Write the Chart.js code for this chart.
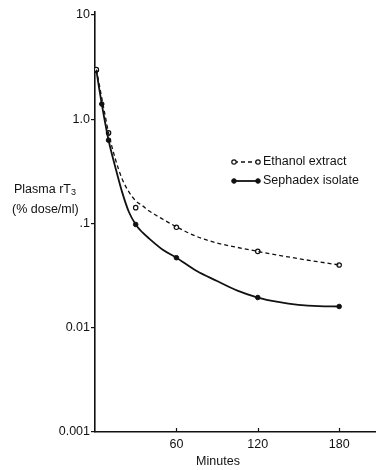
<!DOCTYPE html>
<html><head><meta charset="utf-8">
<script src="https://cdn.jsdelivr.net/npm/chart.js@4/dist/chart.umd.min.js"></script>
<style>html,body{margin:0;padding:0;background:#fff;} #wrap{width:381px;height:470px;position:relative}</style>
</head><body><div id="wrap"><canvas id="c" width="381" height="470"></canvas></div>
<script>
const seriesNames = ['Ethanol extract', 'Sephadex isolate'];
// measured points (markers)
const ethanolMinutes = [1, 10, 30, 60, 120, 180];
const ethanolValues = [3.0, 0.74, 0.142, 0.092, 0.054, 0.040];
const sephadexMinutes = [1, 5, 10, 30, 60, 120, 180];
const sephadexValues = [2.95, 1.4, 0.63, 0.098, 0.047, 0.0195, 0.016];
// hand-drawn curves
const ethanolCurveMinutes = [1, 3, 5, 7, 10, 15, 20, 25, 30, 35, 40, 45, 50, 60, 75, 90, 105, 120, 150, 180];
const ethanolCurveValues = [3.0, 2.2, 1.6, 1.17, 0.74, 0.416, 0.268, 0.201, 0.165, 0.148, 0.132, 0.12, 0.11, 0.093, 0.075, 0.065, 0.059, 0.054, 0.046, 0.040];
const sephadexCurveMinutes = [1, 3, 5, 7, 10, 15, 20, 25, 30, 35, 40, 50, 60, 75, 90, 105, 120, 135, 150, 165, 180];
const sephadexCurveValues = [2.95, 2.0, 1.4, 1.0, 0.63, 0.347, 0.2, 0.129, 0.098, 0.082, 0.0716, 0.056, 0.047, 0.035, 0.0281, 0.0227, 0.0195, 0.0177, 0.0166, 0.0161, 0.016];
const xTickValues = [60, 120, 180];
const yTickValues = [0.001, 0.01, 0.1, 1, 10];
const yTickLabels = ['0.001', '0.01', '.1', '1.0', '10'];
const xTitle = 'Minutes';
const yTitleMain = 'Plasma rT';
const yTitleSub = '3';
const yTitleUnit = '(% dose/ml)';

const INK = '#111';
const FONT = '"Liberation Sans", Arial, sans-serif';

const pts = (xs, ys) => xs.map((x, i) => ({x: x, y: ys[i]}));

const styles = [
  {lineWidth: 1.3, dash: [4, 3], radius: 2.2, fill: '#fff', border: 1.2},
  {lineWidth: 1.8, dash: [], radius: 2.3, fill: INK, border: 1}
];

const extras = {
  id: 'extras',
  afterDraw(chart) {
    const ctx = chart.ctx;
    const xs = chart.scales.x, ys = chart.scales.y;
    ctx.save();
    ctx.strokeStyle = INK; ctx.lineWidth = 1.2;
    xTickValues.forEach(v => {
      const px = Math.round(xs.getPixelForValue(v)) + 0.5;
      ctx.beginPath(); ctx.moveTo(px, ys.bottom); ctx.lineTo(px, ys.bottom - 4); ctx.stroke();
    });
    ctx.fillStyle = INK;
    ctx.font = '12.5px ' + FONT;
    ctx.textBaseline = 'middle';
    ctx.textAlign = 'center';
    ctx.fillText(xTitle, 218, 462);
    ctx.textAlign = 'left';
    ctx.fillText(yTitleMain, 14, 190);
    const w = ctx.measureText(yTitleMain).width;
    ctx.font = '9px ' + FONT;
    ctx.fillText(yTitleSub, 14 + w, 193);
    ctx.font = '12.5px ' + FONT;
    ctx.fillText(yTitleUnit, 12, 210);
    const rows = [162, 181];
    seriesNames.forEach((name, i) => {
      const st = styles[i];
      const y = rows[i];
      ctx.strokeStyle = INK;
      ctx.lineWidth = st.lineWidth;
      ctx.setLineDash(st.dash);
      ctx.beginPath(); ctx.moveTo(234, y); ctx.lineTo(258, y); ctx.stroke();
      ctx.setLineDash([]);
      [234, 258].forEach(cx => {
        ctx.beginPath(); ctx.arc(cx, y, st.radius, 0, Math.PI * 2);
        ctx.fillStyle = st.fill; ctx.fill();
        ctx.lineWidth = st.border; ctx.strokeStyle = INK; ctx.stroke();
      });
      ctx.fillStyle = INK;
      ctx.font = '12.5px ' + FONT;
      ctx.textAlign = 'left';
      ctx.fillText(name, 263, y);
    });
    ctx.restore();
  }
};

new Chart(document.getElementById('c'), {
  type: 'line',
  data: {
    datasets: [
      {
        label: seriesNames[0] + ' curve',
        data: pts(ethanolCurveMinutes, ethanolCurveValues),
        borderColor: INK, borderWidth: styles[0].lineWidth, borderDash: styles[0].dash,
        pointRadius: 0, cubicInterpolationMode: 'monotone', fill: false
      },
      {
        label: seriesNames[1] + ' curve',
        data: pts(sephadexCurveMinutes, sephadexCurveValues),
        borderColor: INK, borderWidth: styles[1].lineWidth,
        pointRadius: 0, cubicInterpolationMode: 'monotone', fill: false
      },
      {
        label: seriesNames[0],
        data: pts(ethanolMinutes, ethanolValues),
        showLine: false,
        pointRadius: styles[0].radius, pointBackgroundColor: styles[0].fill, pointBorderColor: INK, pointBorderWidth: styles[0].border
      },
      {
        label: seriesNames[1],
        data: pts(sephadexMinutes, sephadexValues),
        showLine: false,
        pointRadius: styles[1].radius, pointBackgroundColor: styles[1].fill, pointBorderColor: INK, pointBorderWidth: styles[1].border
      }
    ]
  },
  options: {
    responsive: false, animation: false, devicePixelRatio: 1,
    layout: {padding: {top: 12, left: 0, right: 0, bottom: 0}},
    plugins: {legend: {display: false}, tooltip: {enabled: false}},
    scales: {
      x: {
        type: 'linear', min: 0, max: 207,
        afterBuildTicks: s => { s.ticks = xTickValues.map(v => ({value: v})); },
        afterFit: s => { s.height = 38; },
        grid: {display: false, drawTicks: false},
        border: {display: true, color: INK, width: 1.6},
        ticks: {color: INK, font: {family: FONT, size: 12.5}, padding: 5, maxRotation: 0, callback: v => String(v)}
      },
      y: {
        type: 'logarithmic', min: 0.001, max: 10.69,
        afterBuildTicks: s => { s.ticks = yTickValues.map(v => ({value: v, major: true})); },
        afterFit: s => { s.width = 95; },
        grid: {display: true, drawOnChartArea: false, drawTicks: true, tickLength: 4, color: INK, lineWidth: 1.2},
        border: {display: true, color: INK, width: 1.6},
        ticks: {color: INK, font: {family: FONT, size: 12.5}, padding: 1, autoSkip: false,
          callback: (v, i) => yTickLabels[i]}
      }
    }
  },
  plugins: [extras]
});
</script></body></html>
